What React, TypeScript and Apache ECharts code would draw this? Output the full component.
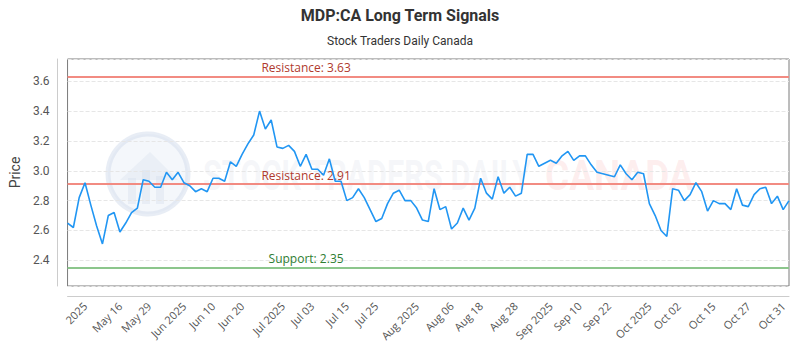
import React, { useEffect, useRef } from 'react';
import * as echarts from 'echarts';

const prices = [
  2.65, 2.62, 2.82, 2.92, 2.77, 2.63, 2.51, 2.70, 2.72, 2.59, 2.65, 2.72, 2.75, 2.94, 2.93, 2.89, 2.89, 2.99, 2.94, 2.99, 2.92, 2.90, 2.86, 2.88, 2.86,
  2.95, 2.95, 2.93, 3.06, 3.03, 3.11, 3.18, 3.24, 3.40, 3.28, 3.34, 3.16, 3.15, 3.17, 3.13, 3.03, 3.11, 3.01, 3.01, 2.97, 3.08, 2.93, 2.93, 2.80, 2.82,
  2.88, 2.82, 2.74, 2.66, 2.68, 2.78, 2.85, 2.87, 2.80, 2.80, 2.75, 2.67, 2.66, 2.88, 2.74, 2.76, 2.61, 2.65, 2.75, 2.67, 2.75, 2.95, 2.85, 2.81, 2.96,
  2.85, 2.89, 2.83, 2.85, 3.11, 3.11, 3.03, 3.05, 3.07, 3.05, 3.10, 3.13, 3.07, 3.10, 3.10, 3.04, 2.99, 2.98, 2.97, 2.96, 3.04, 2.98, 2.94, 2.99, 2.98,
  2.78, 2.70, 2.60, 2.56, 2.88, 2.87, 2.80, 2.84, 2.92, 2.86, 2.73, 2.80, 2.78, 2.78, 2.74, 2.88, 2.77, 2.76, 2.84, 2.88, 2.89, 2.78, 2.83, 2.74, 2.80,
];

const days = prices.map((_, i) => String(i));

const tickIndex = [3, 9, 14, 20, 25, 30, 37, 42, 48, 53, 60, 66, 71, 77, 83, 88, 93, 100, 105, 111, 117, 123];
const tickText = [
  '2025', 'May 16', 'May 29', 'Jun 2025', 'Jun 10', 'Jun 20', 'Jul 2025', 'Jul 03', 'Jul 15', 'Jul 25', 'Aug 2025',
  'Aug 06', 'Aug 18', 'Aug 28', 'Sep 2025', 'Sep 10', 'Sep 22', 'Oct 2025', 'Oct 02', 'Oct 15', 'Oct 27', 'Oct 31',
];

const levelValues = [3.63, 2.91, 2.35];
const levelNames = ['Resistance', 'Resistance', 'Support'];
const levelLabelIndex = 41;

const yMin = 2.228;
const yMax = 3.749;

export default function App() {
  const ref = useRef<HTMLDivElement>(null);

  useEffect(() => {
    document.body.style.margin = '0';
    if (!ref.current) return;
    const chart = echarts.init(ref.current, undefined, { renderer: 'svg' });

    const lineColors = ['#f28b82', '#f28b82', '#8cc68c'];
    const labelColors = ['#b03a2e', '#b03a2e', '#2e7d32'];

    const option: any = {
      animation: false,
      title: {
        text: 'MDP:CA Long Term Signals',
        subtext: 'Stock Traders Daily Canada',
        left: 'center',
        top: 2,
        itemGap: 12,
        textStyle: { fontFamily: 'Roboto', fontSize: 16, fontWeight: 'bold', color: '#333' },
        subtextStyle: { fontFamily: 'Roboto', fontSize: 12, color: '#333' },
      },
      graphic: [
        {
          type: 'group',
          z: 0,
          silent: true,
          children: [
            { type: 'circle', shape: { cx: 148, cy: 174, r: 40 }, style: { fill: 'rgba(220,228,242,0.3)', stroke: 'rgba(210,220,236,0.5)', lineWidth: 5 } },
            { type: 'polygon', shape: { points: [[120, 180], [150, 152], [178, 180]] }, style: { fill: 'rgba(205,215,232,0.25)' } },
            { type: 'rect', shape: { x: 128, y: 178, width: 8, height: 26 }, style: { fill: 'rgba(205,215,232,0.3)' } },
            { type: 'rect', shape: { x: 142, y: 170, width: 8, height: 34 }, style: { fill: 'rgba(205,215,232,0.3)' } },
            { type: 'rect', shape: { x: 156, y: 176, width: 8, height: 28 }, style: { fill: 'rgba(205,215,232,0.3)' } },
            {
              type: 'text', x: 203, y: 176, scaleX: 0.73,
              style: { text: 'STOCK TRADERS DAILY', fontFamily: 'Roboto', fontSize: 42, fontWeight: 'bold', fill: 'rgba(210,216,228,0.22)', verticalAlign: 'middle', align: 'left' },
            },
            {
              type: 'text', x: 545, y: 176, scaleX: 0.88,
              style: { text: 'CANADA', fontFamily: 'Roboto', fontSize: 42, fontWeight: 'bold', fill: 'rgba(248,180,180,0.22)', verticalAlign: 'middle', align: 'left' },
            },
          ],
        },
      ],
      grid: {
        left: 63,
        right: 11,
        top: 59,
        bottom: 64,
        show: true,
        borderColor: '#7a7a7a',
        borderWidth: 1,
        backgroundColor: 'transparent',
      },
      xAxis: {
        type: 'category',
        data: days,
        boundaryGap: false,
        offset: 10,
        axisLine: { show: true, lineStyle: { color: '#cccccc' } },
        axisTick: { show: false },
        splitLine: { show: false },
        axisLabel: {
          rotate: 45,
          fontFamily: 'Open Sans',
          fontSize: 11,
          color: '#555',
          margin: 8,
          interval: (index: number) => tickIndex.indexOf(index) >= 0,
          formatter: (_v: string, index: number) => {
            const k = tickIndex.indexOf(index);
            return k >= 0 ? tickText[k] : '';
          },
        },
      },
      yAxis: {
        type: 'value',
        min: yMin,
        max: yMax,
        splitNumber: 7,
        offset: 10,
        name: 'Price',
        nameLocation: 'middle',
        nameGap: 31,
        nameTextStyle: { fontFamily: 'Roboto', fontSize: 14, color: '#444' },
        axisLine: { show: true, lineStyle: { color: '#cccccc' } },
        axisTick: { show: false },
        splitLine: { show: true, lineStyle: { color: '#e6e6e6', type: 'dashed' } },
        axisLabel: {
          fontFamily: 'Roboto',
          fontSize: 12,
          color: '#555',
          showMinLabel: false,
          showMaxLabel: false,
          formatter: (v: number) => {
            const r = Math.round(v * 5) / 5;
            return Math.abs(r - v) < 1e-6 ? r.toFixed(1) : '';
          },
        },
      },
      series: [
        {
          type: 'line',
          data: prices,
          symbol: 'none',
          z: 5,
          lineStyle: { color: '#2196f3', width: 1.6 },
          markLine: {
            silent: true,
            symbol: 'none',
            label: { show: false },
            data: levelValues.map((v, i) => ({
              yAxis: v,
              lineStyle: { color: lineColors[i], width: 2, type: 'solid' },
            })),
          },
          markPoint: {
            silent: true,
            symbol: 'circle',
            symbolSize: 0,
            data: levelValues.map((v, i) => ({
              coord: [levelLabelIndex, v],
              label: {
                show: true,
                position: 'top',
                distance: 3,
                formatter: `${levelNames[i]}: ${v.toFixed(2)}`,
                fontFamily: 'Open Sans',
                fontSize: 12,
                color: labelColors[i],
              },
            })),
          },
        },
      ],
    };

    chart.setOption(option);
    return () => chart.dispose();
  }, []);

  return <div ref={ref} style={{ width: 800, height: 350 }} />;
}
